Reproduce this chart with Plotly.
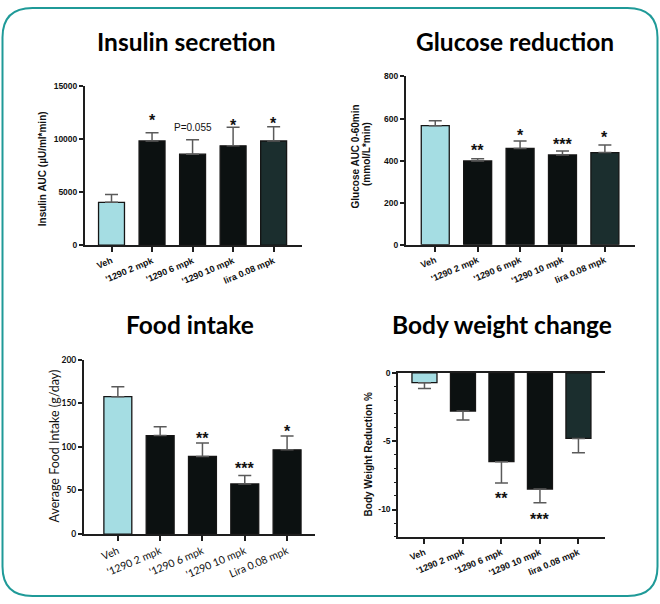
import plotly.graph_objects as go

W, H = 660, 604

# ---------------- data ----------------
categories = ["Veh", "'1290 2 mpk", "'1290 6 mpk", "'1290 10 mpk", "lira 0.08 mpk"]
categories_food = ["Veh", "'1290 2 mpk", "'1290 6 mpk", "'1290 10 mpk", "Lira 0.08 mpk"]

insulin_mean = [4050, 9840, 8600, 9380, 9840]
insulin_err = [740, 770, 1360, 1760, 1350]
insulin_marks = ["", "*", "P=0.055", "*", "*"]
insulin_ticks = [0, 5000, 10000, 15000]

glucose_mean = [566, 398, 458, 427, 438]
glucose_err = [23, 11, 35, 19, 36]
glucose_marks = ["", "**", "*", "***", "*"]
glucose_ticks = [0, 200, 400, 600, 800]

food_mean = [157.6, 113, 89, 57.5, 96.7]
food_err = [11.3, 10, 15.5, 9.8, 15.7]
food_marks = ["", "", "**", "***", "*"]
food_ticks = [0, 50, 100, 150, 200]

bw_mean = [-0.72, -2.8, -6.5, -8.5, -4.8]
bw_err = [0.43, 0.65, 1.56, 1.0, 1.05]
bw_marks = ["", "", "**", "***", ""]
bw_ticks = [0, -5, -10]

panel_titles = ["Insulin secretion", "Glucose reduction", "Food intake", "Body weight change"]
y_titles = [["Insulin AUC (µU/ml*min)"], ["Glucose AUC 0-60min", "(mmol/L*min)"],
            ["Average Food Intake (g/day)"], ["Body Weight Reduction %"]]

# ---------------- style ----------------
VEH = "#a5dde3"
BLK = "#0c1111"
LIRA = "#1b2e2e"
AXC = "#1e1e1e"
ERRC = "#5a5a5a"
TEAL = "#1f9a98"
ARIAL = "Liberation Sans, Arial, sans-serif"
CAL = "Lato, Carlito, Calibri, sans-serif"


def xd(a, b):
    return [a / W, b / W]


def yd(top, bottom):
    return [1 - bottom / H, 1 - top / H]


fig = go.Figure()

panels = [
    dict(mean=insulin_mean, err=insulin_err, marks=insulin_marks, cats=categories,
         colors=[VEH, BLK, BLK, BLK, LIRA], xdom=xd(85, 302), ydom=yd(82.7, 244.3),
         xr=[-0.654, 4.70], yr=[0, 15000], yt=insulin_ticks, width=0.64,
         font=ARIAL, bold=True, offs=[0, 16, 12, 5, 6.5],
         ytpos=[(42, 166)]),
    dict(mean=glucose_mean, err=glucose_err, marks=glucose_marks, cats=categories,
         colors=[VEH, BLK, BLK, BLK, LIRA], xdom=xd(406, 635), ydom=yd(72.7, 243.7),
         xr=[-0.69, 4.71], yr=[0, 800], yt=glucose_ticks, width=0.66,
         font=ARIAL, bold=True, offs=[0, 12, 9.5, 9.5, 11],
         ytpos=[(355, 154), (366.5, 152)]),
    dict(mean=food_mean, err=food_err, marks=food_marks, cats=categories_food,
         colors=[VEH, BLK, BLK, BLK, BLK], xdom=xd(84, 315), ydom=yd(360.7, 538),
         xr=[-0.80, 4.66], yr=[0, 200], yt=food_ticks, width=0.66,
         font=CAL, bold=False, offs=[0, 0, 7.5, 10, 8.5],
         ytpos=[(55, 449)]),
    dict(mean=bw_mean, err=bw_err, marks=bw_marks, cats=categories,
         colors=[VEH, BLK, BLK, BLK, LIRA], xdom=xd(398.3, 605), ydom=yd(374, 540.8),
         xr=[-0.68, 4.69], yr=[-12, 0], yt=bw_ticks, width=0.65,
         font=ARIAL, bold=True, offs=[0, 0, 12, 13, 0],
         ytpos=[(368, 457)]),
]

annotations = []
for k, p in enumerate(panels, start=1):
    xa = "x" if k == 1 else f"x{k}"
    ya = "y" if k == 1 else f"y{k}"
    neg = p["mean"][0] < 0
    idx = list(range(len(p["mean"])))
    fig.add_trace(go.Bar(
        x=idx, y=p["mean"], width=p["width"], xaxis=xa, yaxis=ya,
        marker=dict(color=p["colors"], line=dict(color="#151515", width=1.3)),
        error_y=dict(type="data", symmetric=False,
                     array=[0] * len(idx) if neg else p["err"],
                     arrayminus=p["err"] if neg else [0] * len(idx),
                     color=ERRC, thickness=1.5, width=6.5),
        showlegend=False, hoverinfo="skip",
    ))
    tf_bold = "bold" if p["bold"] else "normal"
    xlay = dict(domain=p["xdom"], range=p["xr"], anchor=ya, tickmode="array",
                tickvals=idx, ticktext=p["cats"], tickangle=-23,
                ticks="outside", ticklen=5, tickwidth=1.5, tickcolor=AXC,
                showline=True, linewidth=2, linecolor=AXC, showgrid=False, zeroline=False,
                tickfont=dict(family=p["font"], size=9 if p["bold"] else 10.5, color="#111",
                              weight=tf_bold))
    ylay = dict(domain=p["ydom"], range=p["yr"], anchor=xa, tickmode="array",
                tickvals=p["yt"], ticktext=[str(v) for v in p["yt"]],
                ticks="outside", ticklen=4, tickwidth=1.5, tickcolor=AXC,
                showline=True, linewidth=2, linecolor=AXC, showgrid=False, zeroline=False,
                tickfont=dict(family=p["font"], size=8.5 if p["bold"] else 8.5, color="#111",
                              weight="bold"))
    if neg:
        xlay["mirror"] = True
        ylay["minor"] = dict(tickmode="linear", dtick=1, ticks="outside", ticklen=2.5,
                             tickwidth=1.2, tickcolor=AXC)
    fig.update_layout(**{("xaxis" if k == 1 else f"xaxis{k}"): xlay,
                         ("yaxis" if k == 1 else f"yaxis{k}"): ylay})

    # y-axis titles
    for line, (cx, cy) in zip(y_titles[k - 1], p["ytpos"]):
        annotations.append(dict(
            x=cx / W, y=1 - cy / H, xref="paper", yref="paper", text=line, textangle=-90,
            showarrow=False, xanchor="center", yanchor="middle",
            font=dict(family=p["font"], size=10 if p["bold"] else 12.5, color="#111",
                      weight=tf_bold)))

    for i, m in enumerate(p["marks"]):
        if not m:
            continue
        star = m.startswith("*")
        if neg:
            yv = p["mean"][i] - p["err"][i]
            shift = -p["offs"][i] - (3.5 if star else 0)
        else:
            yv = p["mean"][i] + p["err"][i]
            shift = p["offs"][i] - (3.5 if star else 0)
        annotations.append(dict(
            x=i, y=yv, xref=xa, yref=ya, text=m, showarrow=False,
            yanchor="middle", xanchor="center", yshift=shift,
            font=dict(family=ARIAL, size=16 if star else 10, color="#111",
                      weight="bold" if star else "normal")))

title_pos = [(186, 37), (515, 37), (190, 325), (502, 325)]
for t, (cx, cy) in zip(panel_titles, title_pos):
    annotations.append(dict(x=cx / W, y=1 - cy / H, xref="paper", yref="paper", text=t,
                            showarrow=False, xanchor="center", yanchor="middle",
                            font=dict(family=CAL, size=24.5, color="#000", weight="bold")))

# rounded border
L, T, R, B, r = 2.5, 3, 657.5, 601, 30


def px(x):
    return x / W


def py(y):
    return 1 - y / H


path = (f"M {px(L + r)},{py(T)} L {px(R - r)},{py(T)} Q {px(R)},{py(T)} {px(R)},{py(T + r)} "
        f"L {px(R)},{py(B - r)} Q {px(R)},{py(B)} {px(R - r)},{py(B)} "
        f"L {px(L + r)},{py(B)} Q {px(L)},{py(B)} {px(L)},{py(B - r)} "
        f"L {px(L)},{py(T + r)} Q {px(L)},{py(T)} {px(L + r)},{py(T)} Z")

fig.update_layout(
    width=W, height=H, autosize=False,
    margin=dict(l=0, r=0, t=0, b=0),
    paper_bgcolor="white", plot_bgcolor="white",
    annotations=annotations,
    shapes=[dict(type="path", path=path, xref="paper", yref="paper",
                 line=dict(color=TEAL, width=2), fillcolor="rgba(0,0,0,0)", layer="below")],
)

fig.write_html("out.html", config={"displayModeBar": False},
               post_script="document.body.style.margin='0';document.body.style.overflow='hidden';")
